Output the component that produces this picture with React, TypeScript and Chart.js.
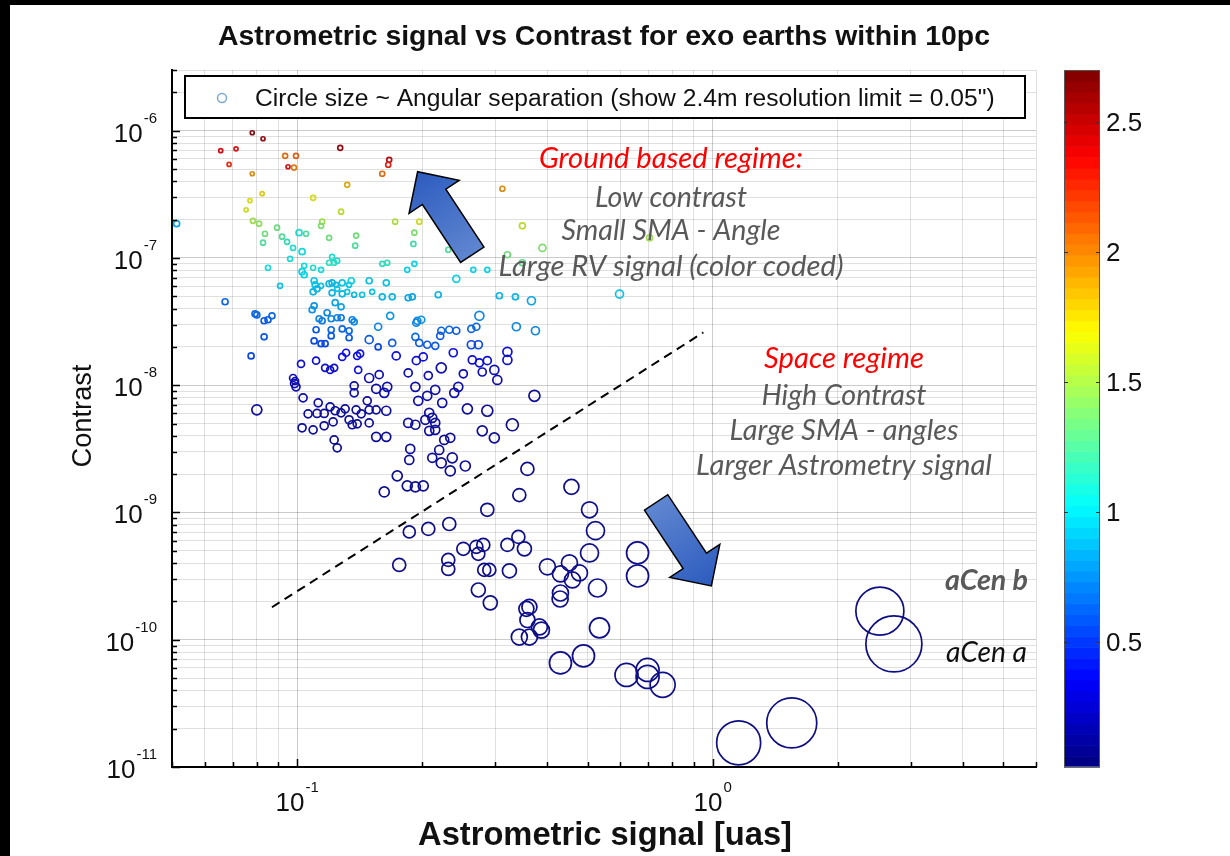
import React, { useEffect, useRef } from "react";
import { Chart, registerables } from "chart.js";
Chart.register(...registerables);

// ---- data: astrometric signal [uas], contrast, angular separation [arcsec], RV signal (colour) ----
const astroSignal = [
  0.078, 0.0828, 0.0655, 0.0713, 0.0686, 0.078, 0.0936, 0.0994, 0.0951, 0.0983,
  0.127, 0.1666, 0.1657, 0.1603, 0.132, 0.3119, 0.0824, 0.077, 0.0754, 0.1093,
  0.1276, 0.1968, 0.3485, 0.0783, 0.081, 0.1149, 0.1722, 0.705, 0.0837, 0.0895,
  0.1142, 0.1194, 0.1387, 0.1915, 0.3894, 0.3207, 0.3485, 0.0828, 0.092, 0.1051,
  0.138, 0.1905, 0.2311, 0.0946, 0.0978, 0.1011, 0.1028, 0.1214, 0.0513, 0.0962,
  0.1028, 0.104, 0.104, 0.1093, 0.1142, 0.1194, 0.1228, 0.1249, 0.1603, 0.1648,
  0.0851, 0.091, 0.1841, 0.1915, 0.2416, 0.2655, 0.2869, 0.5969, 0.1099, 0.1105,
  0.1142, 0.1194, 0.1214, 0.1242, 0.1284, 0.1334, 0.135, 0.1093, 0.1117, 0.1214,
  0.1249, 0.1284, 0.132, 0.1372, 0.1434, 0.1491, 0.1516, 0.1639, 0.1603, 0.1694,
  0.1851, 0.1893, 0.2186, 0.3067, 0.3352, 0.3664, 0.1235, 0.1276, 0.1099, 0.1087,
  0.1181, 0.113, 0.1149, 0.1208, 0.1249, 0.1276, 0.1357, 0.1372, 0.1567, 0.1675,
  0.1947, 0.199, 0.2746, 0.1936, 0.337, 0.3746, 0.0671, 0.0792, 0.08, 0.0833,
  0.0851, 0.087, 0.0833, 0.0775, 0.1208, 0.1284, 0.1334, 0.1111, 0.1208, 0.1334,
  0.1099, 0.1142, 0.1168, 0.1491, 0.1567, 0.1694, 0.1926, 0.1968, 0.2057, 0.215,
  0.2223, 0.2324, 0.2416, 0.221, 0.2626, 0.27, 0.2626, 0.273,
  0.1284, 0.1312, 0.1395, 0.1418, 0.1403, 0.1732, 0.1936, 0.2012, 0.2376, 0.264,
  0.2746, 0.2869, 0.3207, 0.3207, 0.1022, 0.1111, 0.1168, 0.1201, 0.1228, 0.1491,
  0.1576, 0.1851, 0.2069, 0.2223, 0.2512, 0.279, 0.2983, 0.3033, 0.0978, 0.0989,
  0.0994, 0.0986, 0.1372, 0.1372, 0.155, 0.1648, 0.1621, 0.1926, 0.2057, 0.215,
  0.1957, 0.2235, 0.2389, 0.2443, 0.2569, 0.2869, 0.08, 0.1034, 0.1124, 0.1063,
  0.1117, 0.1162, 0.1201, 0.1235, 0.1276, 0.1305, 0.1387, 0.1427, 0.1475, 0.1491,
  0.155, 0.1639, 0.1221, 0.1334, 0.1357, 0.1395, 0.1491, 0.1028, 0.1093, 0.1162,
  0.1851, 0.1926, 0.2035, 0.208, 0.2115, 0.215, 0.208, 0.215, 0.279, 0.2983,
  0.1228, 0.1249, 0.155, 0.1639, 0.226, 0.2337, 0.1872, 0.1862, 0.2198, 0.2115,
  0.2223, 0.2363, 0.2337, 0.254, 0.1742, 0.1841, 0.1926, 0.2012, 0.1621, 0.3725,
  0.3296, 0.3583, 0.4573, 0.3426, 0.2869, 0.5055, 0.5225, 0.5055, 0.2324, 0.2069,
  0.1862, 0.1761, 0.2311, 0.2311, 0.2512, 0.27, 0.2806, 0.273, 0.3207, 0.3408,
  0.3524, 0.2821, 0.2901, 0.3243, 0.4003, 0.4303, 0.4523, 0.4781, 0.4599, 0.4303,
  0.4295, 0.5284, 0.273, 0.2917, 0.3623, 0.3563, 0.3583, 0.3829, 0.3872, 0.3426,
  0.3623, 0.5342, 0.6597, 0.6597, 0.4303, 0.4889, 0.6205, 0.6973, 0.6973, 0.758,
  1.155, 1.55, 2.526, 2.73,
];

const contrast = [
  9.64e-7, 8.65e-7, 6.97e-7, 7.2e-7, 5.43e-7, 4.59e-7, 6.35e-7, 6.35e-7, 5.21e-7, 5.13e-7,
  7.34e-7, 5.91e-7, 5.4e-7, 4.59e-7, 3.76e-7, 3.5e-7, 3.2e-7, 2.82e-7, 2.39e-7, 2.97e-7,
  2.31e-7, 1.93e-7, 1.79e-7, 1.96e-7, 1.86e-7, 1.93e-7, 1.93e-7, 1.44e-7, 1.55e-7, 1.73e-7,
  1.79e-7, 1.44e-7, 1.5e-7, 1.58e-7, 1.2e-7, 1.06e-7, 9.17e-8, 1.32e-7, 1.47e-7, 1.55e-7,
  1.25e-7, 1.29e-7, 1.16e-7, 1.34e-7, 1.2e-7, 1.58e-7, 1.12e-7, 1.02e-7, 1.86e-7, 9.86e-8,
  7.8e-8, 7.38e-8, 8.69e-8, 8.38e-8, 8.07e-8, 9.17e-8, 9.17e-8, 9.51e-8, 9e-8, 9.17e-8,
  8.38e-8, 6.04e-8, 8.07e-8, 9e-8, 6.86e-8, 8.07e-8, 8.07e-8, 5.2e-8, 6.62e-8, 6.15e-8,
  6.04e-8, 6.27e-8, 6.38e-8, 6.15e-8, 6.38e-8, 6.15e-8, 6.62e-8, 5.42e-8, 5.72e-8, 5.32e-8,
  5.72e-8, 5.23e-8, 5.42e-8, 5.14e-8, 5.14e-8, 6.62e-8, 5.42e-8, 6.38e-8, 4.95e-8, 4.95e-8,
  4.87e-8, 4.95e-8, 5.14e-8, 5.05e-8, 4.95e-8, 4.61e-8, 4.45e-8, 4.13e-8, 4.21e-8, 3.92e-8,
  3.71e-8, 3.33e-8, 3.21e-8, 3.33e-8, 3.39e-8, 3.39e-8, 3.27e-8, 3.15e-8, 2.88e-8, 3.51e-8,
  3.21e-8, 3.27e-8, 3.51e-8, 3.1e-8, 2.88e-8, 2.68e-8, 4.53e-8, 3.64e-8, 3.57e-8, 3.21e-8,
  3.27e-8, 3.51e-8, 2.4e-8, 1.7e-8, 2.73e-8, 2.77e-8, 2.68e-8, 2.73e-8, 2.44e-8, 2.36e-8,
  2.23e-8, 2.12e-8, 2.12e-8, 2.28e-8, 2e-8, 2.15e-8, 2.4e-8, 2.15e-8, 2.08e-8, 2.04e-8,
  2.68e-8, 2.73e-8, 2.68e-8, 2.44e-8, 2.77e-8, 2.88e-8, 2.08e-8, 2.08e-8,
  1.67e-8, 1.8e-8, 1.7e-8, 1.77e-8, 1.32e-8, 1.7e-8, 1.56e-8, 1.67e-8, 1.8e-8, 1.58e-8,
  1.5e-8, 1.56e-8, 1.83e-8, 1.58e-8, 1.47e-8, 1.56e-8, 1.37e-8, 1.32e-8, 1.37e-8, 1.14e-8,
  1.21e-8, 1.25e-8, 1.19e-8, 1.37e-8, 1.23e-8, 1.27e-8, 1.32e-8, 1.1e-8, 1.14e-8, 1.08e-8,
  9.71e-9, 1.03e-8, 9.89e-9, 8.71e-9, 9.37e-9, 9.71e-9, 8.71e-9, 9.71e-9, 8.26e-9, 9.2e-9,
  7.54e-9, 7.27e-9, 8.71e-9, 9.71e-9, 6.52e-9, 6.3e-9, 6.41e-9, 7.96e-9, 7.27e-9, 5.96e-9,
  6e-9, 6e-9, 6.76e-9, 6.3e-9, 6.07e-9, 6.52e-9, 6.41e-9, 5.96e-9, 7.54e-9, 6.41e-9,
  6.41e-9, 6.3e-9, 5.15e-9, 5.35e-9, 4.89e-9, 4.97e-9, 5.06e-9, 4.63e-9, 4.46e-9, 4.8e-9,
  5.06e-9, 4.89e-9, 5.35e-9, 6.07e-9, 5.54e-9, 5.06e-9, 4.38e-9, 4.46e-9, 4.38e-9, 3.86e-9,
  3.72e-9, 3.22e-9, 3.93e-9, 3.93e-9, 3.72e-9, 3.86e-9, 3.16e-9, 2.59e-9, 3.1e-9, 2.69e-9,
  2.45e-9, 2.69e-9, 2.12e-9, 2.32e-9, 1.94e-9, 1.62e-9, 1.59e-9, 1.62e-9, 1.45e-9, 8.26e-9,
  4.89e-9, 2.2e-9, 1.59e-9, 1.37e-9, 1.05e-9, 1.05e-9, 7.2e-10, 4.81e-10, 8.12e-10, 7.43e-10,
  7.04e-10, 3.87e-10, 4.24e-10, 3.6e-10, 5.18e-10, 5.37e-10, 5.56e-10, 4.73e-10, 5.56e-10, 6.43e-10,
  5.18e-10, 3.54e-10, 3.54e-10, 3.48e-10, 3.74e-10, 3.29e-10, 4.02e-10, 3.35e-10, 2.95e-10, 2.33e-10,
  2.09e-10, 2.55e-10, 2.46e-10, 1.95e-10, 1.81e-10, 1.75e-10, 1.43e-10, 1.26e-10, 1.19e-10, 1.05e-10,
  1.05e-10, 1.24e-10, 4.81e-10, 3.17e-10, 6.57e-11, 7.46e-11, 5.29e-11, 5.79e-11, 5.1e-11, 4.42e-11,
  1.55e-11, 2.22e-11, 1.68e-10, 9.27e-11,
];

const angSep = [
  0.08, 0.08, 0.08, 0.08, 0.08, 0.08, 0.1, 0.1, 0.08, 0.1,
  0.1, 0.1, 0.1, 0.1, 0.1, 0.1, 0.08, 0.08, 0.08, 0.1,
  0.1, 0.1, 0.12, 0.1, 0.1, 0.1, 0.1, 0.12, 0.1, 0.1,
  0.1, 0.1, 0.1, 0.1, 0.14, 0.12, 0.12, 0.1, 0.1, 0.1,
  0.1, 0.1, 0.1, 0.1, 0.1, 0.12, 0.12, 0.1, 0.12, 0.1,
  0.12, 0.12, 0.1, 0.1, 0.1, 0.1, 0.1, 0.1, 0.1, 0.1,
  0.1, 0.1, 0.1, 0.1, 0.14, 0.1, 0.1, 0.16, 0.12, 0.12,
  0.1, 0.12, 0.12, 0.1, 0.12, 0.1, 0.12, 0.12, 0.12, 0.12,
  0.1, 0.12, 0.1, 0.1, 0.1, 0.12, 0.1, 0.12, 0.12, 0.12,
  0.12, 0.12, 0.12, 0.12, 0.12, 0.16, 0.12, 0.12, 0.12, 0.12,
  0.12, 0.12, 0.12, 0.12, 0.12, 0.12, 0.12, 0.12, 0.14, 0.14,
  0.14, 0.14, 0.18, 0.14, 0.16, 0.16, 0.12, 0.12, 0.12, 0.12,
  0.12, 0.12, 0.12, 0.12, 0.12, 0.12, 0.12, 0.12, 0.12, 0.12,
  0.12, 0.12, 0.12, 0.16, 0.12, 0.14, 0.14, 0.14, 0.14, 0.14,
  0.14, 0.14, 0.14, 0.14, 0.14, 0.14, 0.16, 0.16,
  0.14, 0.14, 0.14, 0.14, 0.14, 0.16, 0.16, 0.16, 0.16, 0.16,
  0.16, 0.16, 0.18, 0.18, 0.14, 0.14, 0.14, 0.14, 0.14, 0.18,
  0.16, 0.16, 0.16, 0.2, 0.16, 0.16, 0.18, 0.18, 0.14, 0.14,
  0.16, 0.16, 0.16, 0.16, 0.18, 0.18, 0.18, 0.18, 0.18, 0.18,
  0.18, 0.18, 0.18, 0.18, 0.2, 0.22, 0.2, 0.16, 0.16, 0.16,
  0.16, 0.16, 0.16, 0.16, 0.16, 0.16, 0.16, 0.16, 0.16, 0.16,
  0.16, 0.18, 0.16, 0.16, 0.16, 0.16, 0.16, 0.16, 0.16, 0.16,
  0.18, 0.18, 0.18, 0.18, 0.18, 0.18, 0.18, 0.18, 0.2, 0.2,
  0.16, 0.16, 0.18, 0.18, 0.18, 0.18, 0.18, 0.18, 0.18, 0.18,
  0.2, 0.2, 0.2, 0.2, 0.2, 0.2, 0.2, 0.2, 0.2, 0.22,
  0.24, 0.26, 0.3, 0.26, 0.26, 0.32, 0.36, 0.36, 0.26, 0.26,
  0.24, 0.26, 0.26, 0.26, 0.26, 0.26, 0.26, 0.26, 0.26, 0.26,
  0.28, 0.26, 0.26, 0.28, 0.32, 0.32, 0.32, 0.32, 0.32, 0.32,
  0.32, 0.36, 0.28, 0.28, 0.3, 0.3, 0.3, 0.32, 0.32, 0.32,
  0.32, 0.4, 0.44, 0.44, 0.44, 0.44, 0.46, 0.46, 0.46, 0.5,
  0.88, 1.0, 0.96, 1.12,
];

const rvSignal = [
  2.65, 2.6, 2.4, 2.35, 2.25, 1.95, 2.05, 2.1, 2.4, 2.0,
  2.6, 2.5, 2.3, 2.05, 1.85, 1.95, 1.75, 1.7, 1.65, 1.68,
  1.6, 1.65, 1.6, 1.5, 1.45, 1.5, 1.55, 1.5, 1.35, 1.35,
  1.4, 1.35, 1.35, 1.4, 1.4, 1.35, 1.3, 1.25, 1.25, 1.25,
  1.25, 1.2, 1.25, 1.15, 1.1, 1.1, 1.05, 1.1, 0.85, 1.05,
  1.0, 1.0, 1.05, 1.1, 1.05, 1.15, 1.15, 1.1, 1.15, 1.15,
  1.05, 0.95, 1.0, 1.0, 1.0, 1.0, 1.0, 0.95, 0.95, 0.95,
  0.95, 0.9, 0.9, 0.9, 0.95, 0.95, 1.0, 0.9, 0.9, 0.9,
  0.95, 0.9, 0.95, 0.9, 0.95, 0.95, 0.95, 0.95, 0.9, 0.9,
  0.85, 0.85, 0.9, 0.9, 0.9, 0.85, 0.85, 0.85, 0.8, 0.8,
  0.75, 0.75, 0.7, 0.75, 0.75, 0.7, 0.75, 0.75, 0.75, 0.8,
  0.75, 0.8, 0.75, 0.75, 0.75, 0.75, 0.65, 0.65, 0.65, 0.6,
  0.6, 0.65, 0.6, 0.55, 0.65, 0.65, 0.65, 0.6, 0.6, 0.6,
  0.55, 0.55, 0.55, 0.6, 0.55, 0.6, 0.65, 0.6, 0.6, 0.6,
  0.65, 0.65, 0.6, 0.6, 0.65, 0.65, 0.55, 0.55,
  0.35, 0.35, 0.35, 0.35, 0.3, 0.35, 0.3, 0.35, 0.35, 0.3,
  0.3, 0.3, 0.35, 0.3, 0.26, 0.3, 0.26, 0.26, 0.26, 0.2,
  0.2, 0.2, 0.2, 0.2, 0.2, 0.2, 0.2, 0.16, 0.2, 0.2,
  0.2, 0.2, 0.16, 0.16, 0.16, 0.16, 0.16, 0.16, 0.16, 0.16,
  0.16, 0.16, 0.16, 0.16, 0.12, 0.12, 0.12, 0.16, 0.16, 0.12,
  0.12, 0.12, 0.12, 0.12, 0.12, 0.12, 0.12, 0.12, 0.12, 0.12,
  0.12, 0.12, 0.12, 0.12, 0.12, 0.12, 0.12, 0.12, 0.12, 0.12,
  0.12, 0.12, 0.12, 0.12, 0.12, 0.12, 0.12, 0.12, 0.12, 0.1,
  0.1, 0.1, 0.1, 0.1, 0.1, 0.1, 0.1, 0.1, 0.1, 0.1,
  0.1, 0.1, 0.1, 0.1, 0.08, 0.08, 0.08, 0.08, 0.08, 0.12,
  0.06, 0.06, 0.06, 0.06, 0.06, 0.06, 0.06, 0.06, 0.06, 0.06,
  0.06, 0.06, 0.06, 0.06, 0.06, 0.06, 0.06, 0.06, 0.06, 0.06,
  0.06, 0.06, 0.06, 0.06, 0.06, 0.06, 0.06, 0.06, 0.06, 0.06,
  0.06, 0.06, 0.06, 0.06, 0.06, 0.06, 0.06, 0.06, 0.06, 0.06,
  0.06, 0.06, 0.06, 0.06, 0.06, 0.06, 0.06, 0.06, 0.06, 0.06,
  0.04, 0.04, 0.04, 0.04,
];

// axis ranges & tick labels
const xRange = [0.05, 6];
const yRange = [1e-11, 3e-6];
const rvRange = [0.02, 2.7];
const xTickLabels = [{ value: 0.1, exp: "-1" }, { value: 1, exp: "0" }];
const yTickLabels = [
  { value: 1e-6, exp: "-6" }, { value: 1e-7, exp: "-7" }, { value: 1e-8, exp: "-8" },
  { value: 1e-9, exp: "-9" }, { value: 1e-10, exp: "-10" }, { value: 1e-11, exp: "-11" },
];
const colorbarTicks = [0.5, 1, 1.5, 2, 2.5];

// annotations in data coordinates
const dividerX = [0.087, 0.95];
const dividerY = [1.8e-10, 2.6e-8];
const arrowGroundX = [0.264, 0.195];
const arrowGroundY = [1.06e-7, 4.76e-7];
const arrowSpaceX = [0.731, 0.993];
const arrowSpaceY = [1.2e-9, 2.65e-10];

const TITLE = "Astrometric signal vs Contrast for exo earths within 10pc";
const X_TITLE = "Astrometric signal [uas]";
const Y_TITLE = "Contrast";
const LEGEND_TEXT = 'Circle size ~ Angular separation (show 2.4m resolution limit = 0.05")';
const groundLines = ["Ground based regime:", "Low contrast", "Small SMA - Angle", "Large RV signal (color coded)"];
const spaceLines = ["Space regime", "High Contrast", "Large SMA - angles", "Larger Astrometry signal"];

const SANS = '"Liberation Sans", Arial, Helvetica, sans-serif';
const HUMAN = 'Lato, "Open Sans", sans-serif';
const SEP_PX = 25; // pixels of marker radius per arcsec

function jetRGB(v: number): number[] {
  const t = Math.min(1, Math.max(0, (v - rvRange[0]) / (rvRange[1] - rvRange[0])));
  const f = (c: number) => 255 * Math.min(1, Math.max(0, 1.5 - Math.abs(4 * t - c)));
  return [f(3), f(2), f(1)];
}
function jet(v: number): string {
  const [r, g, b] = jetRGB(v);
  return `rgb(${Math.round(r)},${Math.round(g)},${Math.round(b)})`;
}
// marker rings look slightly muted in the original rendering
function markColor(v: number): string {
  const [r, g, b] = jetRGB(v);
  const k = 0.2, gr = [70, 70, 110];
  return `rgb(${Math.round(r * (1 - k) + gr[0] * k)},${Math.round(g * (1 - k) + gr[1] * k)},${Math.round(b * (1 - k) + gr[2] * k)})`;
}

function logTicks(min: number, max: number): number[] {
  const out: number[] = [];
  for (let e = Math.floor(Math.log10(min)); e <= Math.ceil(Math.log10(max)); e++) {
    for (let m = 1; m <= 9; m++) {
      const v = +(m * Math.pow(10, e)).toPrecision(6);
      if (v >= min * (1 - 1e-9) && v <= max * (1 + 1e-9)) out.push(v);
    }
  }
  return out;
}
const isMajor = (v: number) => Math.abs(Math.log10(v) - Math.round(Math.log10(v))) < 1e-6;

function fitText(ctx: CanvasRenderingContext2D, text: string, style: string, family: string, width: number) {
  ctx.font = `${style} 100px ${family}`;
  const w = ctx.measureText(text).width;
  ctx.font = `${style} ${((100 * width) / w).toFixed(2)}px ${family}`;
}

function drawPow(ctx: CanvasRenderingContext2D, exp: string, x: number, y: number, align: "center" | "right") {
  ctx.font = `26px ${SANS}`;
  const wb = ctx.measureText("10").width;
  ctx.font = `15px ${SANS}`;
  const we = ctx.measureText(exp).width;
  const total = wb + 1 + we;
  const left = align === "center" ? x - total / 2 : x - total;
  ctx.textAlign = "left";
  ctx.textBaseline = "alphabetic";
  ctx.fillStyle = "#111";
  ctx.font = `26px ${SANS}`;
  ctx.fillText("10", left, y);
  ctx.font = `15px ${SANS}`;
  ctx.fillText(exp, left + wb + 1, y - 19);
}

function drawArrow(chart: any, xs: number[], ys: number[]) {
  const { ctx, scales } = chart;
  const fx = scales.x.getPixelForValue(xs[0]);
  const fy = scales.y.getPixelForValue(ys[0]);
  const tx = scales.x.getPixelForValue(xs[1]);
  const ty = scales.y.getPixelForValue(ys[1]);
  const len = Math.hypot(tx - fx, ty - fy);
  const dx = (tx - fx) / len, dy = (ty - fy) / len;
  const nx = -dy, ny = dx;
  const sw = 14, hw = 30, hl = 30;
  const bx = tx - dx * hl, by = ty - dy * hl;
  ctx.save();
  const g = ctx.createLinearGradient(fx, fy, tx, ty);
  g.addColorStop(0, "#5f86d0");
  g.addColorStop(1, "#2d5cbf");
  ctx.beginPath();
  ctx.moveTo(fx + nx * sw, fy + ny * sw);
  ctx.lineTo(bx + nx * sw, by + ny * sw);
  ctx.lineTo(bx + nx * hw, by + ny * hw);
  ctx.lineTo(tx, ty);
  ctx.lineTo(bx - nx * hw, by - ny * hw);
  ctx.lineTo(bx - nx * sw, by - ny * sw);
  ctx.lineTo(fx - nx * sw, fy - ny * sw);
  ctx.closePath();
  ctx.fillStyle = g;
  ctx.fill();
  ctx.lineWidth = 1.5;
  ctx.strokeStyle = "#000";
  ctx.lineJoin = "miter";
  ctx.stroke();
  ctx.restore();
}

const decorPlugin = {
  id: "decor",
  beforeDraw(chart: any) {
    const { ctx, width, height } = chart;
    ctx.save();
    ctx.fillStyle = "#000";
    ctx.fillRect(0, 0, width, height);
    ctx.fillStyle = "#fff";
    ctx.fillRect(10, 5, width - 10, height - 5);
    ctx.restore();
  },
  afterDatasetsDraw(chart: any) {
    const { ctx, chartArea: a, scales } = chart;
    drawArrow(chart, arrowGroundX, arrowGroundY);
    drawArrow(chart, arrowSpaceX, arrowSpaceY);

    ctx.save();
    // annotation texts
    ctx.textBaseline = "alphabetic";
    ctx.textAlign = "center";
    const gWidths = [264, 152, 219, 345];
    const gBase = [168, 207, 240, 276];
    groundLines.forEach((t, i) => {
      fitText(ctx, t, "italic", HUMAN, gWidths[i]);
      ctx.fillStyle = i === 0 ? "#ff0000" : "#595959";
      ctx.fillText(t, 671, gBase[i]);
    });
    const sWidths = [160, 165, 229, 296];
    const sBase = [368, 405, 440, 475];
    spaceLines.forEach((t, i) => {
      fitText(ctx, t, "italic", HUMAN, sWidths[i]);
      ctx.fillStyle = i === 0 ? "#ff0000" : "#595959";
      ctx.fillText(t, 844, sBase[i]);
    });
    ctx.textAlign = "left";
    fitText(ctx, "aCen b", "italic bold", HUMAN, 83);
    ctx.fillStyle = "#595959";
    ctx.fillText("aCen b", 945, 590);
    fitText(ctx, "aCen a", "italic", HUMAN, 81);
    ctx.fillStyle = "#111";
    ctx.fillText("aCen a", 946, 662);

    // inward tick marks
    ctx.strokeStyle = "#000";
    ctx.lineWidth = 1.5;
    ctx.beginPath();
    logTicks(xRange[0], xRange[1]).forEach((v) => {
      const px = Math.round(scales.x.getPixelForValue(v)) + 0.5;
      const L = isMajor(v) ? 8 : 5;
      ctx.moveTo(px, a.bottom);
      ctx.lineTo(px, a.bottom - L);
    });
    logTicks(yRange[0], yRange[1]).forEach((v) => {
      const py = Math.round(scales.y.getPixelForValue(v)) + 0.5;
      const L = isMajor(v) ? 8 : 5;
      ctx.moveTo(a.left, py);
      ctx.lineTo(a.left + L, py);
    });
    ctx.stroke();

    // tick labels
    xTickLabels.forEach((t) => drawPow(ctx, t.exp, scales.x.getPixelForValue(t.value), a.bottom + 44, "center"));
    yTickLabels.forEach((t) => drawPow(ctx, t.exp, a.left - 15, scales.y.getPixelForValue(t.value) + 11, "right"));

    // titles
    ctx.fillStyle = "#111";
    ctx.textAlign = "center";
    fitText(ctx, TITLE, "bold", SANS, 772);
    ctx.fillText(TITLE, 604, 45);
    fitText(ctx, X_TITLE, "bold", SANS, 374);
    ctx.fillText(X_TITLE, 605, 845);
    ctx.save();
    ctx.translate(91, 416);
    ctx.rotate(-Math.PI / 2);
    fitText(ctx, Y_TITLE, "", SANS, 103);
    ctx.fillText(Y_TITLE, 0, 0);
    ctx.restore();

    // legend box
    ctx.fillStyle = "#fff";
    ctx.fillRect(185, 76, 840, 42);
    ctx.lineWidth = 2;
    ctx.strokeStyle = "#000";
    ctx.strokeRect(185, 76, 840, 42);
    ctx.beginPath();
    ctx.arc(222, 98, 4.5, 0, Math.PI * 2);
    ctx.lineWidth = 1.5;
    ctx.strokeStyle = "#7ea9cf";
    ctx.stroke();
    ctx.fillStyle = "#111";
    ctx.textAlign = "left";
    fitText(ctx, LEGEND_TEXT, "", SANS, 740);
    ctx.fillText(LEGEND_TEXT, 255, 106);

    // colour bar
    const cbL = a.right + 28, cbR = cbL + 36, cbT = a.top, cbB = a.bottom;
    const n = 64;
    for (let i = 0; i < n; i++) {
      const v = rvRange[0] + ((rvRange[1] - rvRange[0]) * (i + 0.5)) / n;
      const y1 = cbB - ((cbB - cbT) * (i + 1)) / n;
      const y0 = cbB - ((cbB - cbT) * i) / n;
      ctx.fillStyle = jet(v);
      ctx.fillRect(cbL, y1, cbR - cbL, y0 - y1 + 0.6);
    }
    ctx.lineWidth = 1;
    ctx.strokeStyle = "#555";
    ctx.strokeRect(cbL + 0.5, cbT + 0.5, cbR - cbL - 1, cbB - cbT - 1);
    ctx.font = `26px ${SANS}`;
    ctx.textAlign = "left";
    ctx.fillStyle = "#111";
    ctx.beginPath();
    colorbarTicks.forEach((v) => {
      const y = cbB - ((v - rvRange[0]) / (rvRange[1] - rvRange[0])) * (cbB - cbT);
      ctx.moveTo(cbL, Math.round(y) + 0.5);
      ctx.lineTo(cbL + 4, Math.round(y) + 0.5);
      ctx.moveTo(cbR, Math.round(y) + 0.5);
      ctx.lineTo(cbR - 4, Math.round(y) + 0.5);
      ctx.fillText(String(v), cbR + 6, y + 9);
    });
    ctx.strokeStyle = "#333";
    ctx.stroke();
    ctx.restore();
  },
};

export default function App() {
  const ref = useRef<HTMLCanvasElement | null>(null);
  useEffect(() => {
    if (!ref.current) return;
    const n = Math.min(astroSignal.length, contrast.length, angSep.length, rvSignal.length);
    const points = Array.from({ length: n }, (_, i) => ({ x: astroSignal[i], y: contrast[i] }));
    const gridColor = (c: any) =>
      c.tick && isMajor(c.tick.value) ? "rgba(0,0,0,0.2)" : "rgba(0,0,0,0.12)";
    const chart = new Chart(ref.current, {
      type: "scatter",
      data: {
        datasets: [
          {
            data: points,
            pointRadius: (c: any) => angSep[c.dataIndex] * SEP_PX,
            pointBorderColor: (c: any) => markColor(rvSignal[c.dataIndex]),
            pointBackgroundColor: "rgba(0,0,0,0)",
            pointBorderWidth: 1.7,
            order: 2,
          },
          {
            data: dividerX.map((x, i) => ({ x, y: dividerY[i] })),
            showLine: true,
            borderColor: "#000",
            borderWidth: 2,
            borderDash: [9, 6],
            pointRadius: 0,
            order: 1,
          },
        ],
      },
      options: {
        responsive: false,
        animation: false,
        events: [],
        layout: { padding: { left: 172, top: 70, right: 194, bottom: 89 } },
        plugins: { legend: { display: false }, tooltip: { enabled: false } },
        scales: {
          x: {
            type: "logarithmic",
            min: xRange[0],
            max: xRange[1],
            afterBuildTicks: (s: any) => {
              s.ticks = logTicks(xRange[0], xRange[1]).map((v) => ({ value: v }));
            },
            ticks: { display: false },
            grid: { color: gridColor, lineWidth: 1, drawTicks: false },
            border: { display: true, color: "#000", width: 2 },
          },
          y: {
            type: "logarithmic",
            min: yRange[0],
            max: yRange[1],
            afterBuildTicks: (s: any) => {
              s.ticks = logTicks(yRange[0], yRange[1]).map((v) => ({ value: v }));
            },
            ticks: { display: false },
            grid: { color: gridColor, lineWidth: 1, drawTicks: false },
            border: { display: true, color: "#000", width: 2 },
          },
        },
      } as any,
      plugins: [decorPlugin],
    });
    return () => chart.destroy();
  }, []);
  return (
    <div style={{ position: "fixed", left: 0, top: 0, width: 1230, height: 856, background: "#000" }}>
      <canvas ref={ref} width={1230} height={856} style={{ display: "block" }} />
    </div>
  );
}
